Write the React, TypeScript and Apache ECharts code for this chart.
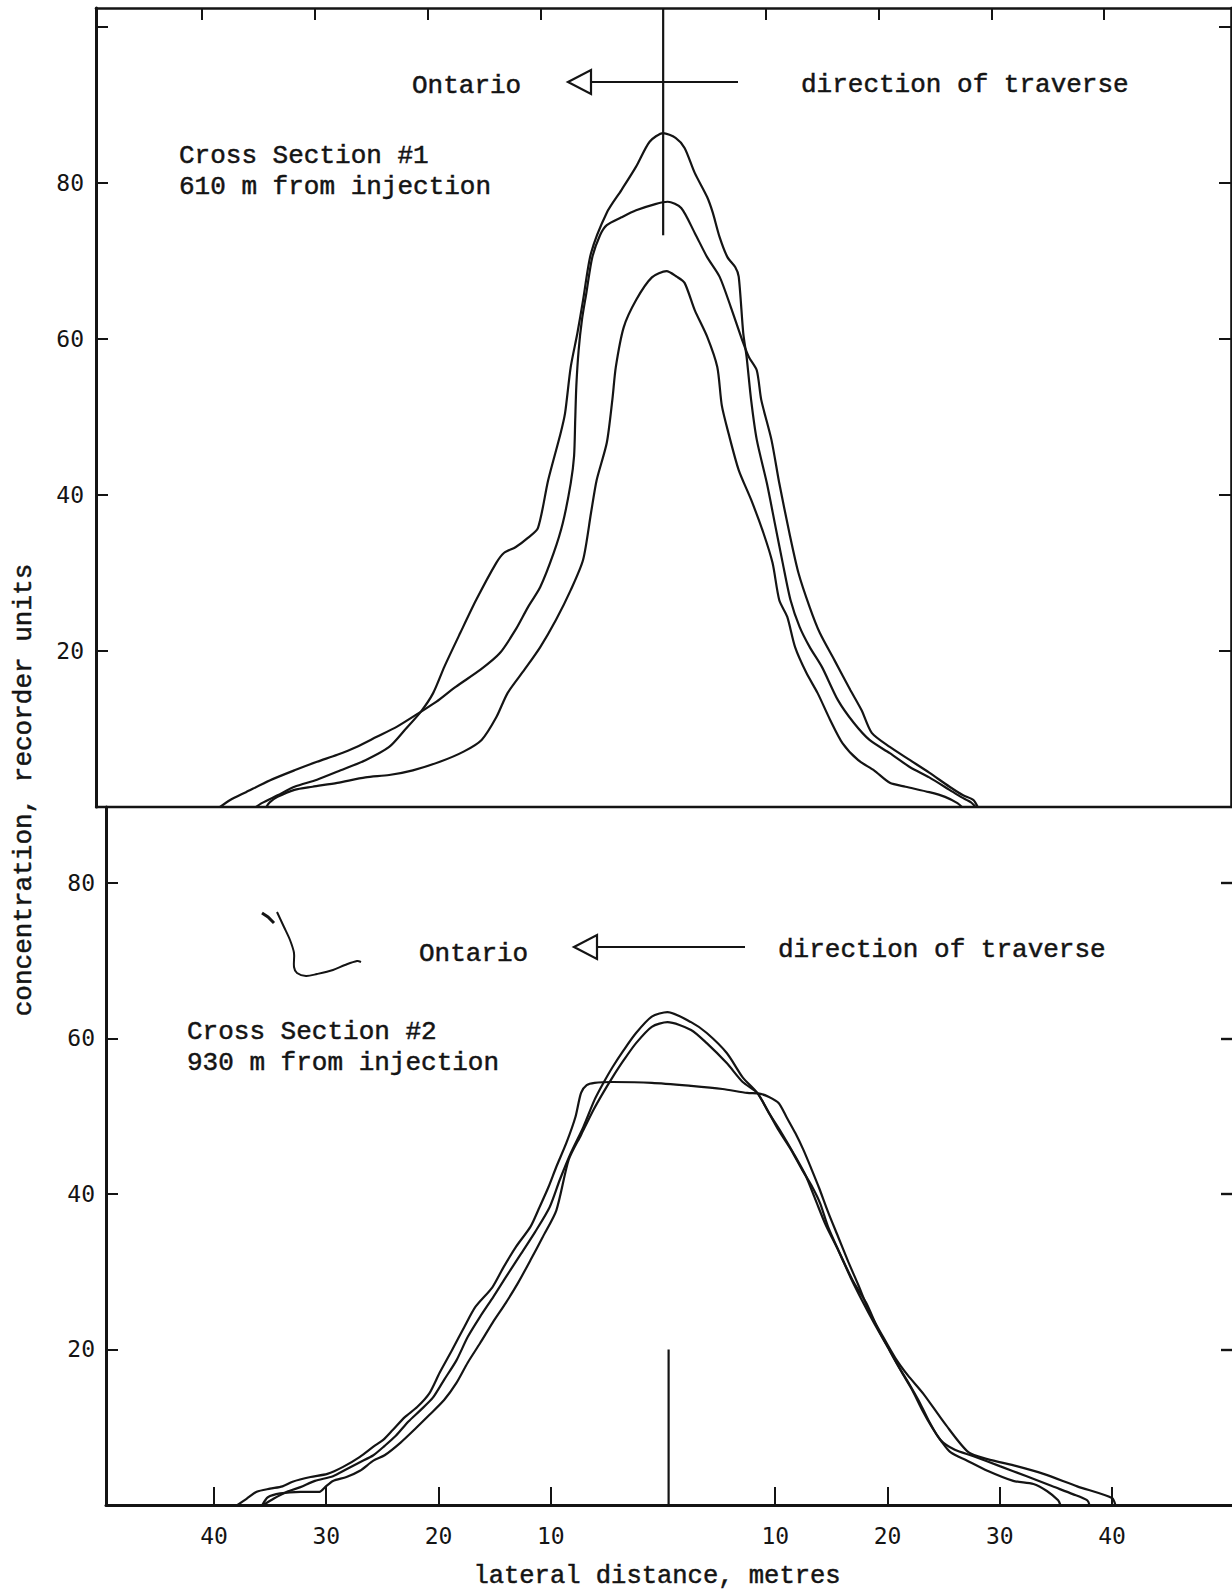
import React, { useEffect, useRef } from "react";
import * as echarts from "echarts";

// ---------- data (lateral distance in metres, concentration in recorder units) ----------
const xTickValues = [-40, -30, -20, -10, 10, 20, 30, 40];
const yTickLabels = [20, 40, 60, 80];
const yTicksTop = [20, 40, 60, 80, 100];

// Cross section #1 (610 m from injection)
const section1TraceA: [number, number][] = [
  [-35.2, 0], [-34.7, 0.5], [-33.3, 1.5], [-31.8, 2.6], [-29.8, 3.5], [-27.7, 4.7], [-25.5, 6.0],
  [-23.4, 7.7], [-22.0, 9.9], [-20.6, 12.2], [-19.5, 14.6], [-18.5, 18.0], [-17.1, 22.3], [-15.7, 26.5],
  [-13.9, 31.3], [-13.2, 32.6], [-12.2, 33.3], [-11.1, 34.5], [-10.2, 35.8], [-9.3, 41.9], [-8.2, 47.9],
  [-7.8, 50.5], [-7.3, 56.4], [-6.7, 60.8], [-6.2, 65.0], [-5.5, 71.0], [-4.1, 76.2], [-2.8, 79.1],
  [-1.5, 82.1], [-0.3, 85.3], [0.9, 86.4], [2.0, 85.8], [2.8, 84.5], [3.7, 81.3], [4.8, 78.2], [5.3, 76.2],
  [5.9, 73.1], [6.6, 70.5], [7.3, 69.2], [7.6, 68.0], [8.0, 60.8], [8.3, 57.7], [8.7, 52.2], [9.2, 47.1],
  [10.1, 41.5], [10.8, 36.4], [11.5, 31.3], [12.2, 26.5], [13.0, 23.1], [13.9, 20.5], [15.0, 17.9],
  [16.4, 13.7], [17.8, 10.8], [19.2, 8.6], [21.0, 6.9], [22.8, 5.1], [24.5, 3.8], [26.3, 2.2], [27.3, 1.3],
  [28.2, 0.6], [28.6, 0],
];
const section1TraceB: [number, number][] = [
  [-38.4, 0], [-37.5, 0.9], [-36.1, 1.9], [-34.0, 3.4], [-31.8, 4.7], [-29.8, 5.8], [-28.0, 6.7],
  [-26.3, 7.7], [-24.5, 9.0], [-22.7, 10.3], [-20.6, 12.2], [-19.2, 13.5], [-17.5, 15.4], [-15.3, 17.6],
  [-13.6, 19.7], [-12.2, 22.7], [-11.1, 25.6], [-10.0, 28.2], [-8.8, 32.6], [-8.0, 36.4], [-7.3, 41.5],
  [-7.0, 45.0], [-6.9, 49.6], [-6.8, 54.0], [-6.6, 58.5], [-6.3, 62.5], [-5.9, 66.0], [-5.4, 70.4],
  [-4.7, 73.3], [-4.1, 74.6], [-2.8, 75.6], [-1.5, 76.5], [0.2, 77.3], [1.3, 77.6], [2.5, 76.8],
  [3.7, 73.6], [4.8, 70.5], [5.9, 68.0], [6.9, 64.1], [8.0, 59.5], [8.5, 57.7], [9.2, 56.0], [9.6, 52.2],
  [10.5, 47.1], [11.2, 41.5], [12.1, 35.1], [12.9, 30.0], [13.9, 25.6], [14.8, 22.3], [16.1, 18.8],
  [17.5, 15.0], [18.5, 12.4], [19.4, 9.5], [21.0, 7.7], [22.8, 6.0], [24.5, 4.4], [26.3, 2.6],
  [27.5, 1.5], [28.4, 0.9], [28.8, 0],
];
const section1TraceC: [number, number][] = [
  [-34.3, 0], [-34.0, 0.6], [-33.3, 1.3], [-31.8, 2.2], [-30.2, 2.6], [-28.0, 3.1], [-25.5, 3.8],
  [-23.4, 4.1], [-21.3, 4.7], [-18.9, 5.8], [-16.8, 7.1], [-15.2, 8.6], [-13.9, 11.5], [-12.9, 14.6],
  [-11.4, 17.6], [-10.0, 20.5], [-8.6, 24.0], [-7.3, 27.8], [-6.2, 31.7], [-5.5, 37.7], [-5.0, 41.9],
  [-4.1, 46.7], [-3.6, 52.3], [-3.3, 56.4], [-2.6, 61.5], [-1.5, 65.0], [-0.1, 67.9], [1.2, 68.7],
  [2.1, 68.0], [2.8, 67.2], [3.7, 63.7], [4.8, 60.3], [5.7, 56.4], [6.1, 51.5], [6.7, 47.9], [7.6, 43.2],
  [8.7, 39.4], [9.8, 35.1], [10.6, 31.3], [11.2, 26.5], [11.9, 24.4], [12.6, 20.5], [13.6, 17.2],
  [14.6, 14.6], [15.7, 11.2], [16.8, 8.2], [18.2, 6.0], [19.6, 4.7], [21.0, 3.1], [22.4, 2.6],
  [24.5, 1.9], [25.9, 1.3], [27.0, 0.5], [27.4, 0],
];
const section1Centre: [number, number][] = [[0.9, 73.3], [0.9, 102.4]];

// Cross section #2 (930 m from injection)
const section2TraceD: [number, number][] = [
  [-35.6, 0], [-34.7, 0.8], [-33.5, 1.7], [-32.3, 2.3], [-31.0, 3.1], [-29.4, 3.7], [-28.2, 4.6],
  [-27.0, 5.5], [-25.8, 6.4], [-24.8, 7.6], [-23.8, 8.9], [-22.7, 10.7], [-21.6, 12.2], [-20.5, 13.8],
  [-19.5, 16.1], [-18.4, 18.6], [-17.4, 21.6], [-16.3, 24.2], [-15.1, 26.8], [-14.0, 29.3], [-12.7, 32.2],
  [-11.4, 35.1], [-10.1, 38.3], [-9.2, 41.8], [-8.2, 45.3], [-7.1, 48.6], [-6.1, 52.1], [-5.3, 54.3],
  [-4.5, 56.3], [-3.5, 58.5], [-2.4, 60.7], [-1.0, 62.8], [0.4, 63.4], [2.5, 62.1], [3.9, 60.7],
  [5.7, 58.1], [7.1, 55.0], [8.4, 53.0], [9.3, 50.8], [10.3, 48.2], [11.4, 45.7], [12.4, 43.1],
  [13.3, 40.9], [14.0, 38.8], [14.7, 35.8], [15.9, 31.9], [17.0, 28.6], [18.1, 26.0], [19.2, 22.5],
  [20.2, 19.9], [21.3, 17.0], [22.2, 14.8], [23.1, 12.2], [24.0, 9.9], [24.8, 8.2], [25.6, 6.8],
  [27.1, 5.7], [28.9, 4.4], [31.2, 3.1], [33.0, 2.7], [34.2, 1.8], [35.2, 0.6], [35.4, 0],
];
const section2TraceE: [number, number][] = [
  [-35.7, 0], [-35.2, 1.0], [-34.1, 1.5], [-32.3, 1.7], [-30.6, 1.7], [-30.1, 2.3], [-29.4, 3.1],
  [-28.2, 3.6], [-27.0, 4.4], [-25.8, 5.7], [-24.8, 6.4], [-23.4, 8.0], [-22.0, 9.9], [-20.8, 11.6],
  [-19.5, 13.5], [-18.4, 15.7], [-17.4, 18.3], [-16.3, 20.8], [-15.2, 23.4], [-14.0, 26.0], [-12.9, 28.6],
  [-11.8, 31.5], [-10.7, 34.5], [-9.5, 37.9], [-8.4, 44.4], [-7.3, 47.6], [-6.2, 50.8], [-5.3, 53.1],
  [-4.5, 55.0], [-3.5, 57.2], [-2.4, 59.4], [-1.0, 61.5], [0.4, 62.1], [2.5, 61.1], [3.9, 59.4],
  [5.7, 56.8], [7.1, 54.4], [8.4, 53.0], [9.4, 50.5], [10.5, 48.0], [11.6, 45.3], [12.7, 42.4],
  [13.6, 39.2], [14.5, 36.0], [15.6, 32.8], [16.7, 29.3], [17.7, 26.4], [18.8, 23.4], [19.9, 20.6],
  [20.9, 18.0], [22.0, 15.4], [22.9, 13.1], [23.8, 10.5], [24.7, 8.4], [26.0, 7.1], [27.6, 6.3],
  [30.0, 5.0], [32.4, 3.7], [34.7, 2.4], [36.5, 1.4], [37.8, 0.6], [38.0, 0],
];
const section2TraceF: [number, number][] = [
  [-37.9, 0], [-37.1, 0.8], [-36.2, 1.7], [-35.0, 2.1], [-33.9, 2.4], [-33.0, 3.0], [-31.4, 3.6],
  [-29.9, 4.0], [-28.5, 4.9], [-27.0, 6.2], [-25.8, 7.5], [-24.9, 8.4], [-24.1, 9.6], [-23.0, 11.3],
  [-21.9, 12.6], [-20.8, 14.4], [-19.9, 17.0], [-18.8, 19.9], [-17.7, 22.9], [-16.7, 25.5], [-15.2, 28.0],
  [-14.2, 30.6], [-13.1, 33.2], [-11.8, 35.8], [-11.0, 38.3], [-10.2, 40.9], [-9.5, 43.5], [-8.6, 46.6],
  [-7.8, 49.9], [-7.3, 53.0], [-6.8, 54.0], [-6.1, 54.3], [-4.5, 54.4], [-1.0, 54.3], [2.5, 53.9],
  [5.3, 53.5], [7.5, 53.0], [8.6, 52.9], [9.4, 52.5], [10.3, 51.7], [11.0, 49.9], [11.8, 47.8],
  [12.5, 45.7], [13.2, 43.3], [13.9, 40.8], [14.7, 37.7], [15.6, 34.5], [16.5, 31.3], [17.4, 28.3],
  [18.4, 24.8], [19.5, 21.9], [20.7, 18.9], [21.8, 16.7], [23.2, 14.3], [25.2, 10.3], [27.2, 6.8],
  [28.9, 5.9], [31.5, 5.0], [33.9, 4.0], [36.9, 2.4], [40.0, 0.9], [40.3, 0],
];
const section2Centre: [number, number][] = [[0.5, 0], [0.5, 20]];

// ---------- layout ----------
const W = 1232;
const H = 1594;
const INK = "#141414";
const TYPE_FONT = '"Liberation Mono", "DejaVu Sans Mono", monospace';
const NUM_FONT = '"DejaVu Sans Mono", "Liberation Mono", monospace';

function text(str: string, x: number, y: number, size = 26, extra: any = {}) {
  return {
    type: "text",
    x,
    y,
    silent: true,
    ...extra,
    style: {
      text: str,
      fontFamily: TYPE_FONT,
      fontSize: size,
      fill: INK,
      align: extra.align || "left",
      verticalAlign: "middle",
      stroke: INK,
      lineWidth: 0.5,
    },
  };
}

function arrow(tipX: number, y: number, shaftEnd: number) {
  return [
    {
      type: "polygon",
      silent: true,
      shape: { points: [[tipX, y], [tipX + 23, y - 12], [tipX + 23, y + 12]] },
      style: { fill: "#fff", stroke: INK, lineWidth: 2.2 },
    },
    {
      type: "line",
      silent: true,
      shape: { x1: tipX + 23, y1: y, x2: shaftEnd, y2: y },
      style: { stroke: INK, lineWidth: 2.2 },
    },
  ];
}

export default function App() {
  const ref = useRef<HTMLDivElement>(null);

  useEffect(() => {
    if (!ref.current) return;
    const chart = echarts.init(ref.current, undefined, { renderer: "svg" });

    const axisLine = (w: number) => ({ show: true, onZero: false, lineStyle: { color: INK, width: w } });
    const tickStyle = { color: INK, width: 2 };
    const numLabel = { fontFamily: NUM_FONT, fontSize: 23, color: INK };

    const traceSeries = (data: [number, number][], xi: number, yi: number) => ({
      type: "line",
      xAxisIndex: xi,
      yAxisIndex: yi,
      data,
      showSymbol: false,
      symbol: "none",
      smooth: 0.25,
      silent: true,
      lineStyle: { color: INK, width: 2.2 },
    });

    const option: any = {
      animation: false,
      backgroundColor: "#fff",
      grid: [
        { left: 96, top: 8, width: 1135, height: 799 },
        { left: 106, top: 807, width: 1126, height: 698 },
      ],
      xAxis: [
        {
          gridIndex: 0, type: "value", min: -49.4, max: 51.26, position: "bottom",
          axisLine: axisLine(2.4), axisTick: { show: false }, axisLabel: { show: false }, splitLine: { show: false },
        },
        {
          gridIndex: 0, type: "value", min: -49.4, max: 51.26, position: "top",
          axisLine: axisLine(2.6),
          axisTick: { show: true, inside: true, length: 12, customValues: xTickValues, lineStyle: tickStyle },
          axisLabel: { show: false }, splitLine: { show: false },
        },
        {
          gridIndex: 1, type: "value", min: -49.62, max: 50.69, position: "bottom",
          axisLine: axisLine(3),
          axisTick: { show: true, inside: true, length: 18, customValues: xTickValues, lineStyle: tickStyle },
          axisLabel: {
            show: true, customValues: xTickValues, margin: 19,
            formatter: (v: number) => String(Math.abs(v)), ...numLabel,
          },
          splitLine: { show: false },
        },
      ],
      yAxis: [
        {
          gridIndex: 0, type: "value", min: 0, max: 102.44, position: "left",
          axisLine: axisLine(3),
          axisTick: { show: true, inside: true, length: 12, customValues: yTicksTop, lineStyle: tickStyle },
          axisLabel: { show: true, customValues: yTickLabels, margin: 12, ...numLabel },
          splitLine: { show: false },
        },
        {
          gridIndex: 0, type: "value", min: 0, max: 102.44, position: "right",
          axisLine: axisLine(2.6),
          axisTick: { show: true, inside: true, length: 12, customValues: yTicksTop, lineStyle: tickStyle },
          axisLabel: { show: false }, splitLine: { show: false },
        },
        {
          gridIndex: 1, type: "value", min: 0, max: 89.77, position: "left",
          axisLine: axisLine(3),
          axisTick: { show: true, inside: true, length: 12, customValues: yTickLabels, lineStyle: tickStyle },
          axisLabel: { show: true, customValues: yTickLabels, margin: 11, ...numLabel },
          splitLine: { show: false },
        },
        {
          gridIndex: 1, type: "value", min: 0, max: 89.77, position: "right",
          axisLine: { show: false, onZero: false },
          axisTick: { show: true, inside: true, length: 11, customValues: yTickLabels, lineStyle: { color: INK, width: 2.4 } },
          axisLabel: { show: false }, splitLine: { show: false },
        },
      ],
      series: [
        traceSeries(section1TraceA, 0, 0),
        traceSeries(section1TraceB, 0, 0),
        traceSeries(section1TraceC, 0, 0),
        { ...traceSeries(section1Centre, 0, 0), smooth: false, lineStyle: { color: INK, width: 2.2 } },
        traceSeries(section2TraceD, 2, 2),
        traceSeries(section2TraceE, 2, 2),
        traceSeries(section2TraceF, 2, 2),
        { ...traceSeries(section2Centre, 2, 2), smooth: false, lineStyle: { color: INK, width: 2.2 } },
      ],
      graphic: [
        // panel 1 annotations
        text("Ontario", 412, 86),
        ...arrow(568, 82, 738),
        text("direction of traverse", 801, 85),
        text("Cross Section #1", 179, 156),
        text("610 m from injection", 179, 187),
        // panel 2 annotations
        text("Ontario", 419, 954),
        ...arrow(574, 947, 745),
        text("direction of traverse", 778, 950),
        text("Cross Section #2", 187, 1032),
        text("930 m from injection", 187, 1063),
        // hand-drawn pen mark
        {
          type: "polyline", silent: true,
          shape: {
            points: [[277, 912], [284, 927], [290, 940], [294, 953], [294, 967], [297, 973], [306, 976],
              [317, 974], [333, 970], [345, 965], [357, 961], [361, 962]],
            smooth: 0.3,
          },
          style: { stroke: INK, lineWidth: 2, fill: null },
        },
        {
          type: "polyline", silent: true,
          shape: { points: [[262, 913], [268, 917], [274, 923]] },
          style: { stroke: INK, lineWidth: 3, fill: null },
        },
        // axis titles
        text("lateral distance, metres", 657, 1576, 25.5, { align: "center" }),
        text("concentration, recorder units", 24, 790, 26, { rotation: Math.PI / 2, align: "center" }),
      ],
    };

    chart.setOption(option);
    return () => chart.dispose();
  }, []);

  return (
    <div
      ref={ref}
      style={{ position: "absolute", left: 0, top: 0, width: W, height: H, background: "#fff" }}
    />
  );
}
